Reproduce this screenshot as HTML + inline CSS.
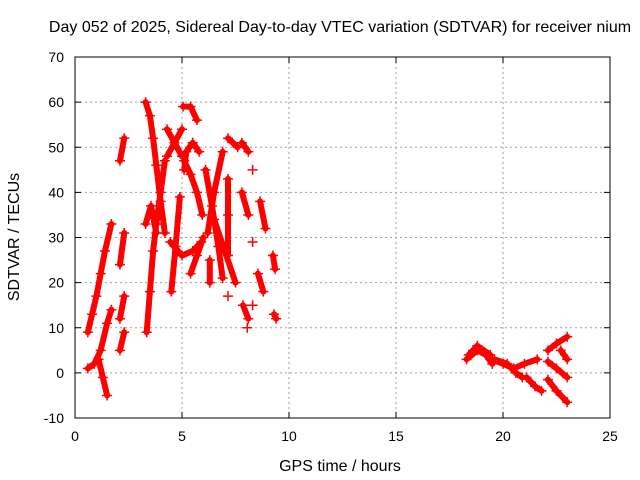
<!DOCTYPE html>
<html><head><meta charset="utf-8"><style>
body{margin:0;background:#fff}
svg{display:block;font-family:"Liberation Sans",sans-serif}
</style></head><body>
<svg id="c" width="640" height="480">
<text x="340" y="32" font-size="16" text-anchor="middle">Day 052 of 2025, Sidereal Day-to-day VTEC variation (SDTVAR) for receiver nium</text>
<text x="340" y="471" font-size="16" text-anchor="middle">GPS time / hours</text>
<text transform="translate(19,237) rotate(-90)" font-size="16" text-anchor="middle">SDTVAR / TECUs</text>
<g id="grid"></g><g id="marks"></g><g id="axes"></g>
</svg>
<script>
const xTicks=[0,5,10,15,20,25];
const yTicks=[-10,0,10,20,30,40,50,60,70];
const tracks=[
[[0.6,9],[0.8,13],[1.0,17],[1.2,22],[1.4,27],[1.7,33]],
[[0.6,1],[0.9,2],[1.2,5],[1.5,11],[1.7,14]],
[[1.1,3],[1.3,-1],[1.5,-5]],
[[2.1,47],[2.3,52]],[[2.1,24],[2.3,31]],[[2.1,12],[2.3,17]],[[2.1,5],[2.3,9]],
[[3.3,60],[3.5,57],[3.65,52],[3.8,46],[4.0,38],[4.2,31]],
[[3.35,9],[3.5,18],[3.65,27],[3.8,33],[4.0,40],[4.2,47]],
[[3.3,33],[3.55,37],[3.8,31]],
[[4.3,48],[4.65,51],[5.0,54]],[[4.3,54],[4.65,51],[5.0,48]],
[[5.05,59],[5.4,59],[5.7,56]],
[[5.1,45],[5.2,49],[5.5,51],[5.8,49]],
[[5.1,47],[5.4,44],[5.7,40],[5.95,35]],
[[4.5,18],[4.7,28],[4.9,39]],
[[4.45,29],[5.0,26],[5.5,27],[5.9,29]],
[[5.4,22],[5.7,26],[6.0,30]],
[[6.1,45],[6.4,37],[6.7,28],[6.9,21]],
[[6.2,31],[6.5,40],[6.9,49]],
[[6.5,34],[7.0,27],[7.5,20]],
[[7.15,43],[7.15,35],[7.15,26]],[[6.3,25],[6.3,20]],
[[7.15,52],[7.6,50]],[[7.8,51],[8.1,49]],[[7.8,40],[8.1,35]],[[8.65,38],[8.9,32]],
[[8.3,45]],[[8.3,29]],[[8.55,22],[8.8,18]],[[9.25,26],[9.35,23]],
[[7.15,17]],[[7.85,15],[8.1,12]],[[8.05,10]],[[8.3,15]],[[9.3,13],[9.4,12]],
[[18.3,3],[18.8,5],[19.2,4],[19.5,2]],
[[18.4,4],[18.8,6],[19.4,4]],
[[19.5,3],[20.0,2],[20.5,1],[21.0,2],[21.6,3]],
[[19.6,3],[20.2,2],[20.6,0],[20.9,-1]],
[[21.1,-1],[21.5,-3],[21.8,-4]],
[[22.1,5],[22.5,6.5],[23.0,8]],[[22.7,5],[23.0,3]],
[[22.1,2.5],[22.5,1],[23.0,-1]],[[22.1,-1.5],[22.5,-4],[23.0,-6.5]]
];
const X0=75,X1=610,Y0=418,Y1=57;
const sx=h=>X0+(h-0)/25*(X1-X0);
const sy=v=>Y0-(v+10)/80*(Y0-Y1);
const NS="http://www.w3.org/2000/svg";
function mk(t,a,p){const e=document.createElementNS(NS,t);for(const k in a)e.setAttribute(k,a[k]);p.appendChild(e);return e;}
const grid=document.getElementById('grid'),axes=document.getElementById('axes'),marks=document.getElementById('marks');
xTicks.forEach(t=>{
 if(t>0&&t<25){const l=mk('line',{x1:sx(t),x2:sx(t),y1:Y1,y2:Y0,stroke:'#a0a0a0','stroke-dasharray':'2,3'},grid);
 
 }
 mk('line',{x1:sx(t),x2:sx(t),y1:Y0,y2:Y0-6,stroke:'#000'},axes);
 mk('line',{x1:sx(t),x2:sx(t),y1:Y1,y2:Y1+6,stroke:'#000'},axes);
 const tx=mk('text',{x:sx(t),y:Y0+23,'font-size':14,'text-anchor':'middle'},axes);tx.textContent=t;
 
 
});
yTicks.forEach(t=>{
 if(t>-10&&t<70){const l=mk('line',{x1:X0,x2:X1,y1:sy(t),y2:sy(t),stroke:'#a0a0a0','stroke-dasharray':'2,3'},grid);
 
 }
 mk('line',{x1:X0,x2:X0+6,y1:sy(t),y2:sy(t),stroke:'#000'},axes);
 mk('line',{x1:X1,x2:X1-6,y1:sy(t),y2:sy(t),stroke:'#000'},axes);
 const tx=mk('text',{x:X0-11,y:sy(t)+5,'font-size':14,'text-anchor':'end'},axes);tx.textContent=t;
 
 
});
const fr=mk('rect',{x:X0,y:Y1,width:X1-X0,height:Y0-Y1,fill:'none',stroke:'#000'},axes);


tracks.forEach(tr=>{
 const g=mk('g',{},marks);
 
 
 if(tr.length>1){
  mk('polyline',{points:tr.map(p=>sx(p[0])+','+sy(p[1])).join(' '),fill:'none',stroke:'#f00','stroke-width':6,'stroke-linecap':'round','stroke-linejoin':'round'},g);
 }
 tr.forEach(p=>{
  const x=sx(p[0]),y=sy(p[1]);
  const m=mk('path',{d:`M${x-5},${y}H${x+5}M${x},${y-5}V${y+5}`,stroke:'#f00','stroke-width':1.5},g);
  
  
 });
});
</script>
</body></html>
